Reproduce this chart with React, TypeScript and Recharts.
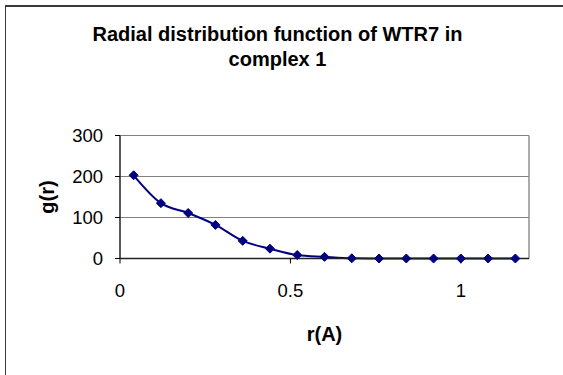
import React from "react";
import {
  LineChart,
  Line,
  XAxis,
  YAxis,
  CartesianGrid,
  ReferenceLine,
  Label,
} from "recharts";

// r values (Angstrom) and g(r) for WTR7 in complex 1
const rValues = [
  0.04, 0.12, 0.2, 0.28, 0.36, 0.44, 0.52, 0.6, 0.68, 0.76, 0.84, 0.92, 1.0,
  1.08, 1.16,
];
const gValues = [203, 135, 111, 82, 43, 24, 8.5, 4, 0.5, 0, 0, 0, 0, 0, 0];

const xTicks = [0, 0.5, 1];
const yTicks = [0, 100, 200, 300];

const chartData = rValues.map((r, i) => ({ r, g: gValues[i] }));

const FONT = "'Liberation Sans', Arial, sans-serif";

// diamond marker used by Excel-style line charts
const Diamond = (props: any) => {
  const { cx, cy } = props;
  if (cx == null || cy == null) return null;
  const s = 4.5;
  return (
    <path
      d={`M${cx},${cy - s} L${cx + s},${cy} L${cx},${cy + s} L${cx - s},${cy} Z`}
      fill="#000080"
      stroke="#000080"
    />
  );
};

export default function App() {
  return (
    <div
      style={{
        position: "absolute",
        left: 0,
        top: 0,
        width: 563,
        height: 375,
        overflow: "hidden",
        background: "#fff",
        fontFamily: FONT,
      }}
    >
      {/* chart area frame */}
      <div
        style={{
          position: "absolute",
          left: 5,
          top: 5,
          width: 700,
          height: 500,
          borderTop: "2px solid #3a3a3a",
          borderLeft: "1.5px solid #3a3a3a",
        }}
      />
      <div
        style={{
          position: "absolute",
          left: -4,
          top: 22,
          width: 563,
          textAlign: "center",
          fontWeight: "bold",
          fontSize: 20,
          lineHeight: "25px",
          color: "#000",
        }}
      >
        Radial distribution function of WTR7 in
        <br />
        complex 1
      </div>
      <LineChart
        width={563}
        height={375}
        data={chartData}
        margin={{ top: 135.5, right: 34, bottom: 86.5, left: 60 }}
        style={{ position: "absolute", left: 0, top: 0 }}
      >
        <CartesianGrid vertical={false} stroke="#808080" strokeWidth={1.2} />
        <ReferenceLine x={1.2} stroke="#909090" strokeWidth={1.5} />
        <XAxis
          dataKey="r"
          type="number"
          domain={[0, 1.2]}
          ticks={xTicks}
          height={30}
          stroke="#000"
          tickSize={5}
          tickMargin={20}
          tick={{ fill: "#000", fontSize: 18.5, fontFamily: FONT }}
          axisLine={{ stroke: "#222", strokeWidth: 1.5 }}
        >
          <Label
            value="r(A)"
            position="insideBottom"
            offset={-52}
            style={{ fontWeight: "bold", fontSize: 20, fill: "#000", fontFamily: FONT }}
          />
        </XAxis>
        <YAxis
          type="number"
          domain={[0, 300]}
          ticks={yTicks}
          width={60}
          stroke="#000"
          tickSize={5}
          tickMargin={12}
          tick={{ fill: "#000", fontSize: 18.5, fontFamily: FONT }}
          axisLine={{ stroke: "#222", strokeWidth: 1.5 }}
        >
          <Label
            value="g(r)"
            angle={-90}
            position="insideLeft"
            offset={-13}
            style={{
              fontWeight: "bold",
              fontSize: 20,
              fill: "#000",
              fontFamily: FONT,
              textAnchor: "middle",
            }}
          />
        </YAxis>
        <Line
          type="monotone"
          dataKey="g"
          stroke="#000080"
          strokeWidth={2}
          dot={<Diamond />}
          activeDot={false}
          isAnimationActive={false}
        />
      </LineChart>
    </div>
  );
}
